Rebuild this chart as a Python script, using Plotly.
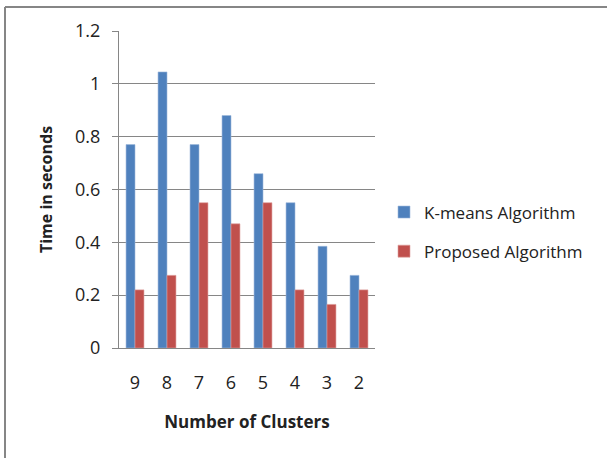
import plotly.graph_objects as go

clusters = ["9", "8", "7", "6", "5", "4", "3", "2"]
kmeans = [0.77, 1.045, 0.77, 0.88, 0.66, 0.55, 0.385, 0.275]
proposed = [0.22, 0.275, 0.55, 0.47, 0.55, 0.22, 0.165, 0.22]
y_ticks = [0, 0.2, 0.4, 0.6, 0.8, 1, 1.2]
y_tick_labels = ["0", "0.2", "0.4", "0.6", "0.8", "1", "1.2"]

FONT = "Open Sans"

fig = go.Figure()
fig.add_trace(go.Bar(x=clusters, y=kmeans, name="K-means Algorithm", legendgroup="a",
                     marker=dict(color="#4F81BD", line=dict(color="#9DB9DC", width=0.6))))
fig.add_trace(go.Bar(x=clusters, y=proposed, name="Proposed Algorithm", legendgroup="b",
                     marker=dict(color="#C0504D", line=dict(color="#DDA09E", width=0.6))))

L, R, T, B = 119, 375, 31, 348
W, H = 608, 458

fig.update_layout(
    width=W, height=H,
    margin=dict(l=L, r=W - R, t=T, b=H - B, pad=0),
    paper_bgcolor="white", plot_bgcolor="white",
    barmode="group", bargap=0.44, bargroupgap=0,
    font=dict(family=FONT, size=15, color="#222222"),
    showlegend=True,
    legend=dict(x=(384 - L) / (R - L), y=(B - 232) / (B - T), xanchor="left", yanchor="middle",
                font=dict(size=17, color="#222222"), tracegroupgap=14, itemwidth=30,
                bgcolor="rgba(0,0,0,0)"),
    xaxis=dict(type="category", categoryorder="array", categoryarray=clusters,
               showline=True, linecolor="#868686", linewidth=1,
               ticks="outside", ticklen=18, tickcolor="rgba(0,0,0,0)",
               tickfont=dict(size=18, family=FONT),
               title=dict(text="<b>Number of Clusters</b>", font=dict(size=17, family=FONT), standoff=23)),
    yaxis=dict(range=[0, 1.2], tickvals=y_ticks, ticktext=y_tick_labels,
               showgrid=True, gridcolor="#868686", gridwidth=1,
               showline=True, linecolor="#868686", linewidth=1,
               ticks="outside", ticklen=6, tickcolor="#868686",
               ticklabelstandoff=8,
               tickfont=dict(size=18, family=FONT),
               zeroline=False,
               title=dict(text="<b>Time in seconds</b>", font=dict(size=16, family=FONT), standoff=18)),
    shapes=[
        dict(type="line", xref="paper", yref="paper",
             x0=(5 - L) / (R - L), x1=(607 - L) / (R - L),
             y0=(B - 7) / (B - T), y1=(B - 7) / (B - T),
             line=dict(color="#868686", width=2)),
        dict(type="line", xref="paper", yref="paper",
             x0=(5 - L) / (R - L), x1=(5 - L) / (R - L),
             y0=(B - 7) / (B - T), y1=(B - 458) / (B - T),
             line=dict(color="#868686", width=2)),
    ],
)

fig.write_html("out.html", config={"displayModeBar": False},
               post_script="document.body.style.margin='0';document.body.style.overflow='hidden';")
